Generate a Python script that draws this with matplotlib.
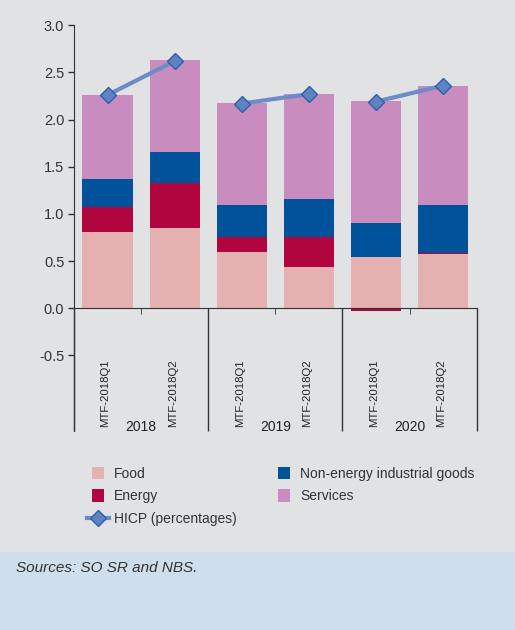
import numpy as np
import matplotlib
matplotlib.use("Agg")
import matplotlib.pyplot as plt
from matplotlib.patches import Rectangle
from matplotlib.legend_handler import HandlerPatch

plt.rcParams['font.family'] = ['Liberation Sans', 'DejaVu Sans']
plt.rcParams['axes.unicode_minus'] = False

# data
categories = ['MTF-2018Q1', 'MTF-2018Q2'] * 3
years = ['2018', '2019', '2020']
food = [0.81, 0.85, 0.60, 0.44, 0.54, 0.58]
energy = [0.26, 0.48, 0.15, 0.31, -0.03, 0.01]
neig = [0.30, 0.33, 0.34, 0.41, 0.36, 0.50]
services = [0.89, 0.97, 1.09, 1.11, 1.30, 1.27]
hicp = [2.26, 2.62, 2.17, 2.27, 2.19, 2.36]

bg = '#e1e2e4'
fig = plt.figure(figsize=(5.15, 6.3), dpi=100, facecolor=bg)
# blue band with the sources note
fig.patches.append(Rectangle((0, 0), 1, 0.124, transform=fig.transFigure,
                             facecolor='#cfdeed', edgecolor='none', zorder=0))

ax = fig.add_axes([0.1437, 0.316, 0.782, 0.644])
ax.set_facecolor('none')

x = np.arange(len(categories))
pos = np.zeros(len(x))
neg = np.zeros(len(x))
series = [(food, '#e4b1b0', 'Food'), (energy, '#b0053f', 'Energy'),
          (neig, '#00529b', 'Non-energy industrial goods'), (services, '#c88cbf', 'Services')]
proxies = {}
for vals, col, lab in series:
    v = np.array(vals)
    bottom = np.where(v >= 0, pos, neg)
    ax.bar(x, v, 0.75, bottom=bottom, color=col, zorder=2)
    pos += np.clip(v, 0, None)
    neg += np.clip(v, None, 0)
    proxies[lab] = Rectangle((0, 0), 1, 1, facecolor=col, edgecolor='none')

# HICP line, broken between years
for g in range(3):
    xs = x[2 * g:2 * g + 2]
    ys = hicp[2 * g:2 * g + 2]
    line, = ax.plot(xs, ys, color='#6c8cc8', lw=3, marker='D', markersize=8,
                    markerfacecolor='#5f82c2', markeredgecolor='#2f5fa8',
                    markeredgewidth=1, zorder=3)

ax.set_xlim(-0.5, 5.5)
ax.set_ylim(-1.3, 3.0)
ax.set_yticks(np.arange(-0.5, 3.01, 0.5))
ax.yaxis.set_major_formatter(matplotlib.ticker.FormatStrFormatter('%.1f'))
ax.tick_params(axis='y', direction='out', length=4, width=1, color='#333333',
               labelsize=10.5, labelcolor='#333333', pad=3)
for s in ['top', 'right']:
    ax.spines[s].set_visible(False)
ax.spines['left'].set_color('#333333')
ax.spines['bottom'].set_position(('data', 0))
ax.spines['bottom'].set_color('#333333')
ax.set_xticks([])
ax.set_xticks([0.5, 2.5, 4.5], minor=True)
ax.tick_params(axis='x', which='minor', direction='out', length=4, color='#333333', labelbottom=False)

ax.vlines([-0.5, 1.5, 3.5, 5.5], -1.3, 0, color='#333333', lw=1, clip_on=False, zorder=1)
for xi, c in zip(x, categories):
    ax.text(xi - 0.03, -0.54, c, rotation=90, ha='center', va='top', fontsize=8.2,
            color='#222222', clip_on=False)
for g, yr in enumerate(years):
    ax.text(2 * g + 0.5, -1.26, yr, ha='center', va='center', fontsize=10,
            color='#222222', clip_on=False)


def square(legend, orig_handle, xdescent, ydescent, width, height, fontsize):
    return Rectangle((width / 2 - height / 2 - xdescent, -ydescent), height, height)


leg_handles = [proxies['Food'], proxies['Energy'], line,
               proxies['Non-energy industrial goods'], proxies['Services']]
leg_labels = ['Food', 'Energy', 'HICP (percentages)', 'Non-energy industrial goods', 'Services']
fig.legend(leg_handles, leg_labels, ncol=2, loc='upper left', bbox_to_anchor=(0.169, 0.259),
           frameon=False, fontsize=10, handlelength=1.6, handleheight=1.0,
           handletextpad=0.36, columnspacing=2.6, labelspacing=0.62, borderaxespad=0,
           borderpad=0, labelcolor='#333333',
           handler_map={Rectangle: HandlerPatch(patch_func=square)})

fig.text(0.031, 0.098, 'Sources: SO SR and NBS.', style='italic', fontsize=11,
         color='#333333', va='center', ha='left')

fig.savefig('out.png', dpi=100, facecolor=bg)
